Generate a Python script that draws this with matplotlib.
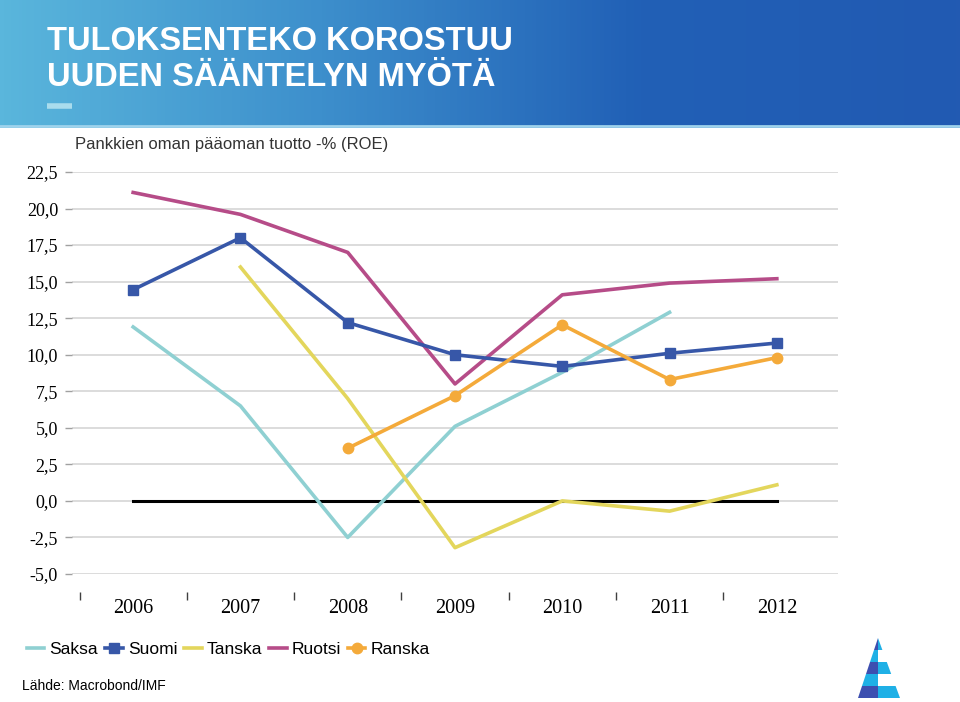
import numpy as np
import matplotlib.pyplot as plt
from matplotlib.colors import LinearSegmentedColormap
from matplotlib.patches import Polygon

# data
years = ["2006", "2007", "2008", "2009", "2010", "2011", "2012"]
saksa = [11.9, 6.5, -2.5, 5.1, 8.8, 12.9, np.nan]
suomi = [14.45, 18.0, 12.2, 10.0, 9.2, 10.1, 10.8]
tanska = [np.nan, 16.0, 7.0, -3.2, 0.0, -0.7, 1.1]
ruotsi = [21.1, 19.6, 17.0, 8.0, 14.1, 14.9, 15.2]
ranska = [np.nan, np.nan, 3.6, 7.2, 12.05, 8.3, 9.8]
zero_line = [0, 0, 0, 0, 0, 0, 0]
y_ticks = [-5.0, -2.5, 0.0, 2.5, 5.0, 7.5, 10.0, 12.5, 15.0, 17.5, 20.0, 22.5]

W, H = 960, 702
fig = plt.figure(figsize=(W / 100, H / 100), dpi=100)

# header band with a horizontal gradient
hdr = fig.add_axes([0, 1 - 128 / H, 1, 128 / H])
cmap = LinearSegmentedColormap.from_list("hdr", ["#5ab6dc", "#3d8fcc", "#2160b6", "#225ab2"])
hdr.imshow(np.linspace(0, 1, 256).reshape(1, -1), aspect="auto", cmap=cmap,
           extent=[0, 1, 0, 1])
hdr.axhline(0.015, color="#9fd3ec", lw=2)
hdr.set_xlim(0, 1)
hdr.set_ylim(0, 1)
hdr.axis("off")

title_font = ["Liberation Sans Narrow", "Liberation Sans", "DejaVu Sans"]
fig.text(47 / W, 1 - 42 / H, "TULOKSENTEKO KOROSTUU", color="white", fontsize=23.5,
         fontweight="bold", family=title_font, va="center", ha="left")
fig.text(47 / W, 1 - 77 / H, "UUDEN SÄÄNTELYN MYÖTÄ", color="white", fontsize=23.5,
         fontweight="bold", family=title_font, va="center", ha="left")
hdr.plot([47 / W, 72 / W], [1 - 106 / 128, 1 - 106 / 128], color="#a9dced", lw=4,
         solid_capstyle="butt")

# main chart
ax = fig.add_axes([72 / W, (H - 574) / H, (838 - 72) / W, (574 - 172) / H])
x = np.arange(len(years))

ax.plot(x, zero_line, color="black", lw=2.2, zorder=2)
ax.plot(x, saksa, color="#8fd0d2", lw=2.6, label="Saksa", zorder=3)
ax.plot(x, suomi, color="#3757a8", lw=2.6, marker="s", ms=7.5, label="Suomi", zorder=4)
ax.plot(x, tanska, color="#e3d65c", lw=2.6, label="Tanska", zorder=3)
ax.plot(x, ruotsi, color="#b64c88", lw=2.6, label="Ruotsi", zorder=3)
ax.plot(x, ranska, color="#f4aa3a", lw=2.6, marker="o", ms=7.5, label="Ranska", zorder=4)

ax.set_xlim(-0.57, 6.57)
ax.set_ylim(-5, 22.5)
ax.yaxis.grid(True, color="#d9d9d9", lw=1.3)
ax.set_axisbelow(True)

ax.set_xticks(x)
ax.set_xticks(np.arange(-0.5, 6.0, 1.0), minor=True)
ax.set_yticks(y_ticks)
ax.tick_params(axis="x", which="major", length=0, pad=5)
ax.tick_params(axis="x", which="minor", length=6, width=1, color="#404040", direction="out")
ax.tick_params(axis="y", length=5, width=1, color="#a0a0a0", pad=5)
for s in ax.spines.values():
    s.set_visible(False)
ax.spines["bottom"].set_position(("outward", 13))

ax.set_xticklabels(years)
ax.set_yticklabels([f"{v:.1f}".replace(".", ",") for v in y_ticks])
for lab in ax.get_xticklabels():
    lab.set_fontfamily("Liberation Serif")
    lab.set_fontsize(14.5)
for lab in ax.get_yticklabels():
    lab.set_fontfamily("Liberation Serif")
    lab.set_fontsize(13)

fig.text(75 / W, 1 - 145 / H, "Pankkien oman pääoman tuotto -% (ROE)",
         fontsize=12, color="#333333", family="Liberation Sans", va="center")

leg = fig.legend(loc="center left", bbox_to_anchor=(27 / W, 1 - 649 / H), ncol=5,
                 frameon=False, prop={"family": "Liberation Sans", "size": 12.5},
                 handlelength=1.0, handletextpad=0.3, columnspacing=0.4,
                 borderaxespad=0, borderpad=0)

fig.text(22 / W, 1 - 686 / H, "Lähde: Macrobond/IMF", fontsize=10,
         family="Liberation Sans", va="center")

# logo, bottom right
logo = fig.add_axes([850 / W, 0, 60 / W, 70 / H])
logo.set_xlim(0, 60)
logo.set_ylim(0, 70)
logo.axis("off")
apex = (28, 64)
left_base, right_base = (8, 4), (50, 4)
bands = [4, 16, 28, 40, 52, 64]
cols_l = ["#3d4fb0", "#1fb0e6", "#3d4fb0", "#1fb0e6", "#3d4fb0"]
cols_r = ["#1fb0e6", "#ffffff", "#1fb0e6", "#ffffff", "#1fb0e6"]
for i in range(len(bands) - 1):
    y0, y1 = bands[i], bands[i + 1]
    def xl(y):
        return left_base[0] + (apex[0] - left_base[0]) * (y - 4) / 60
    def xr(y):
        return right_base[0] + (apex[0] - right_base[0]) * (y - 4) / 60
    logo.add_patch(Polygon([(xl(y0), y0), (apex[0], y0), (apex[0], y1), (xl(y1), y1)],
                           color=cols_l[i], lw=0))
    logo.add_patch(Polygon([(apex[0], y0), (xr(y0), y0), (xr(y1), y1), (apex[0], y1)],
                           color=cols_r[i], lw=0))

fig.savefig("out.png", dpi=100)
